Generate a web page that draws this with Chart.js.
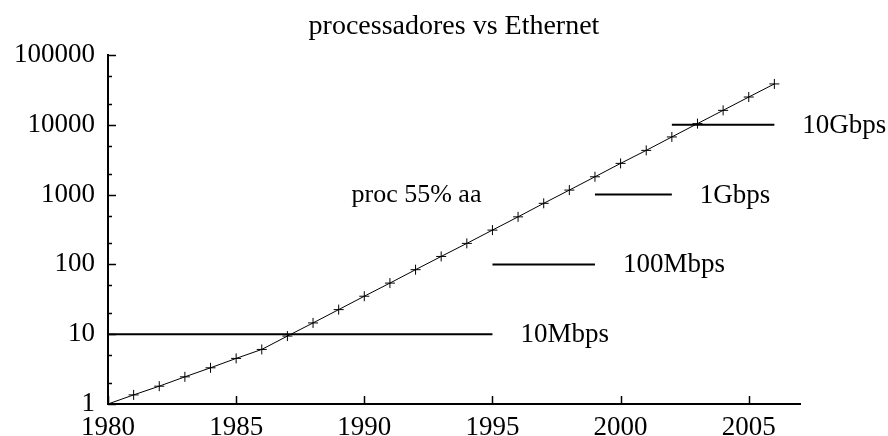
<!DOCTYPE html>
<html>
<head>
<meta charset="utf-8">
<script src="https://cdn.jsdelivr.net/npm/chart.js@4"></script>
<style>
  html, body { margin: 0; padding: 0; background: #fff; }
  #wrap { width: 888px; height: 436px; }
</style>
</head>
<body>
<div id="wrap"><canvas id="chart"></canvas></div>
<script>
const years = [1980, 1981, 1982, 1983, 1984, 1985, 1986, 1987, 1988, 1989, 1990, 1991, 1992, 1993,
               1994, 1995, 1996, 1997, 1998, 1999, 2000, 2001, 2002, 2003, 2004, 2005, 2006];
const procPerf = [1, 1.35, 1.8, 2.45, 3.3, 4.5, 6.05, 9.4, 14.5, 22.5, 35, 54, 84, 130,
                  200, 310, 480, 750, 1160, 1800, 2800, 4300, 6700, 10400, 16100, 25000, 38500];
const procLabel = 'proc 55% aa';
const ethNames = ['10Mbps', '100Mbps', '1Gbps', '10Gbps'];
const ethSpeed = [10, 100, 1000, 10000];
const ethStart = [1980, 1995, 1999, 2002];
const ethEnd = [1995, 1999, 2002, 2006];
const xTicks = [1980, 1985, 1990, 1995, 2000, 2005];
const yTicks = [1, 2, 5, 10, 20, 50, 100, 200, 500, 1000, 2000, 5000, 10000, 20000, 50000, 100000];

const FONT = 'Liberation Serif, Times New Roman, serif';

const isMajor = v => Math.abs(Math.log10(v) - Math.round(Math.log10(v))) < 1e-9;

const datasets = [{
    label: 'processadores',
    data: years.map((y, i) => ({x: y, y: procPerf[i]})),
    borderColor: '#000',
    borderWidth: 1,
    pointStyle: 'cross',
    pointRadius: 5,
    pointBorderWidth: 1,
    pointBorderColor: '#000',
    tension: 0
}];
ethNames.forEach((name, i) => {
    datasets.push({
        label: name,
        data: [{x: ethStart[i], y: ethSpeed[i]}, {x: ethEnd[i], y: ethSpeed[i]}],
        borderColor: '#000',
        borderWidth: 2,
        pointRadius: 0
    });
});

// ticks pointing into the plot, plus the text labels next to the lines
const extras = {
    id: 'extras',
    afterDraw(chart) {
        const c = chart.ctx;
        const xs = chart.scales.x, ys = chart.scales.y;
        const area = chart.chartArea;
        c.save();
        c.strokeStyle = '#000';
        c.lineWidth = 1.5;
        c.beginPath();
        yTicks.forEach(v => {
            const py = Math.round(ys.getPixelForValue(v)) + 0.5;
            const len = isMajor(v) ? 8 : 4;
            c.moveTo(area.left, py);
            c.lineTo(area.left + len, py);
        });
        xTicks.forEach(v => {
            const px = Math.round(xs.getPixelForValue(v)) + 0.5;
            c.moveTo(px, area.bottom);
            c.lineTo(px, area.bottom - 8);
        });
        c.stroke();

        c.fillStyle = '#000';
        c.font = '27px ' + FONT;
        c.textBaseline = 'middle';
        c.textAlign = 'left';
        ethNames.forEach((name, i) => {
            c.fillText(name, xs.getPixelForValue(ethEnd[i]) + 28, ys.getPixelForValue(ethSpeed[i]) + 1);
        });
        c.font = '26px ' + FONT;
        c.fillText(procLabel, xs.getPixelForValue(1989.5), ys.getPixelForValue(1000) + 1);
        c.restore();
    }
};

new Chart(document.getElementById('chart'), {
    type: 'line',
    data: { datasets: datasets },
    options: {
        responsive: true,
        maintainAspectRatio: false,
        animation: false,
        layout: { padding: { left: 0, right: 88, top: 0, bottom: 0 } },
        plugins: {
            legend: { display: false },
            tooltip: { enabled: false },
            title: {
                display: true,
                text: 'processadores vs Ethernet',
                fullSize: false,
                color: '#000',
                font: { family: FONT, size: 28, weight: 'normal', lineHeight: 1.2 },
                padding: { top: 10, bottom: 11.4 }
            }
        },
        scales: {
            x: {
                type: 'linear',
                min: 1980,
                max: 2007,
                afterBuildTicks: s => { s.ticks = xTicks.map(v => ({value: v})); },
                afterFit: s => { s.height = 32; },
                grid: { display: false, drawTicks: false },
                border: { display: true, color: '#000', width: 2 },
                ticks: {
                    autoSkip: false,
                    maxRotation: 0,
                    padding: 8,
                    color: '#000',
                    font: { family: FONT, size: 27 },
                    callback: v => String(v)
                }
            },
            y: {
                type: 'logarithmic',
                min: 1,
                max: 100000,
                afterBuildTicks: s => { s.ticks = yTicks.map(v => ({value: v})); },
                afterFit: s => { s.width = 108; },
                grid: { display: false, drawTicks: false },
                border: { display: true, color: '#000', width: 2 },
                ticks: {
                    autoSkip: false,
                    padding: 13,
                    color: '#000',
                    font: { family: FONT, size: 27 },
                    callback: v => isMajor(v) ? String(Math.round(v)) : ''
                }
            }
        }
    },
    plugins: [extras]
});
</script>
</body>
</html>
